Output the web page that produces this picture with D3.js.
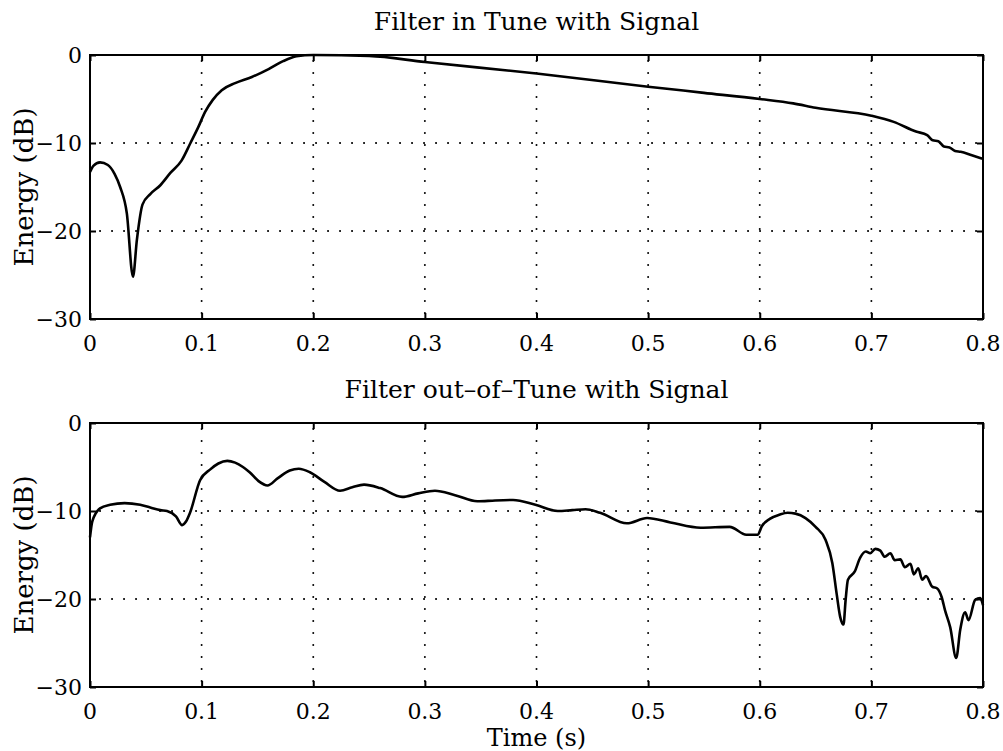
<!DOCTYPE html>
<html>
<head>
<meta charset="utf-8">
<script src="https://cdn.jsdelivr.net/npm/d3@7"></script>
<style>
    body { margin: 0; background: #fff; }
    svg { display: block; }
    text { font-family: "DejaVu Serif", "Liberation Serif", serif; fill: #000; }
</style>
</head>
<body>
<div id="chart"></div>
<script>
// tick values shared by both panels
const timeTicks = [0, 0.1, 0.2, 0.3, 0.4, 0.5, 0.6, 0.7, 0.8];
const energyTicks = [0, -10, -20, -30];

const titles = ["Filter in Tune with Signal", "Filter out\u2013of\u2013Tune with Signal"];

// top panel: filter in tune (time s, energy dB)
const inTuneTime = [0, 0.003, 0.009, 0.016, 0.022, 0.027, 0.033, 0.0385, 0.042, 0.047, 0.054, 0.063,
    0.072, 0.082, 0.09, 0.097, 0.103, 0.11, 0.118, 0.13, 0.145, 0.16, 0.173, 0.185, 0.2, 0.25,
    0.3, 0.4, 0.5, 0.55, 0.6, 0.63, 0.65, 0.7, 0.72, 0.74, 0.75, 0.755, 0.76, 0.765, 0.77, 0.775, 0.78, 0.79, 0.8];
const inTuneEnergy = [-13.3, -12.6, -12.2, -12.5, -13.5, -15.0, -18.0, -25.2, -21.0, -17.0, -15.8, -14.8,
    -13.4, -12.0, -10.0, -8.2, -6.5, -5.1, -4.0, -3.2, -2.5, -1.6, -0.7, -0.15, 0, -0.1,
    -0.8, -2.1, -3.6, -4.3, -5.0, -5.5, -6.0, -6.9, -7.6, -8.7, -9.1, -9.7, -9.8, -10.4, -10.5, -10.9, -11.0, -11.4, -11.8];

// bottom panel: filter out of tune
const outTuneTime = [0, 0.002, 0.009, 0.018, 0.031, 0.045, 0.054, 0.063, 0.069, 0.077, 0.0825, 0.086,
    0.0896, 0.0986, 0.1075, 0.115, 0.123, 0.13, 0.137, 0.143, 0.151, 0.159, 0.168, 0.179, 0.187,
    0.197, 0.21, 0.224, 0.235, 0.2455, 0.26, 0.2796, 0.294, 0.309, 0.327, 0.347, 0.363, 0.379,
    0.399, 0.419, 0.432, 0.444, 0.457, 0.481, 0.499, 0.52, 0.547, 0.573, 0.588, 0.598, 0.602,
    0.609, 0.618, 0.625, 0.632, 0.641, 0.65, 0.659, 0.665, 0.669, 0.672, 0.675, 0.677, 0.679,
    0.685, 0.69, 0.695, 0.699, 0.7035, 0.708, 0.712, 0.717, 0.721, 0.726, 0.73, 0.735, 0.738,
    0.742, 0.7455, 0.749, 0.7545, 0.759, 0.763, 0.766, 0.7706, 0.776, 0.7796, 0.784, 0.787,
    0.793, 0.7975, 0.8];
const outTuneEnergy = [-13.0, -11.2, -9.7, -9.3, -9.1, -9.3, -9.6, -9.9, -10.0, -10.6, -11.6, -11.2,
    -10.2, -6.5, -5.3, -4.6, -4.3, -4.5, -5.0, -5.6, -6.6, -7.1, -6.3, -5.4, -5.2,
    -5.6, -6.7, -7.7, -7.3, -7.0, -7.4, -8.4, -8.0, -7.7, -8.2, -8.9, -8.8, -8.75,
    -9.3, -10.0, -9.9, -9.8, -10.2, -11.4, -10.8, -11.3, -11.9, -11.8, -12.7, -12.7, -11.7,
    -10.9, -10.4, -10.2, -10.3, -10.8, -11.8, -13.3, -15.9, -19.5, -22.0, -22.9, -20.0, -17.8,
    -16.9, -15.3, -14.6, -14.8, -14.3, -14.5, -15.2, -14.8, -15.6, -15.5, -16.4, -16.0, -17.2,
    -16.5, -17.8, -17.4, -18.6, -18.8, -19.8, -21.3, -23.2, -26.7, -23.5, -21.5, -22.4,
    -20.1, -19.9, -20.7];

const width = 1003, height = 751;
const left = 90, right = 983;
const panelTops = [55, 423];
const panelHeight = 264;

const svg = d3.select("#chart").append("svg")
    .attr("width", width)
    .attr("height", height);

const x = d3.scaleLinear().domain([0, 0.8]).range([left, right]);

function drawPanel(i, times, energies) {
    const top = panelTops[i];
    const y = d3.scaleLinear().domain([-30, 0]).range([top + panelHeight, top]);
    const g = svg.append("g");

    // dotted grid
    g.selectAll(".vgrid").data(timeTicks.slice(1, -1)).enter()
        .append("line")
        .attr("x1", d => x(d)).attr("x2", d => x(d))
        .attr("y1", top + 6).attr("y2", top + panelHeight - 6)
        .attr("stroke", "#000").attr("stroke-width", 2)
        .attr("stroke-linecap", "round")
        .attr("stroke-dasharray", "0.1,11.9");
    g.selectAll(".hgrid").data(energyTicks.slice(1, -1)).enter()
        .append("line")
        .attr("y1", d => y(d)).attr("y2", d => y(d))
        .attr("x1", left + 10).attr("x2", right - 6)
        .attr("stroke", "#000").attr("stroke-width", 2)
        .attr("stroke-linecap", "round")
        .attr("stroke-dasharray", "0.1,11.9");

    // tick marks on all four sides, pointing in
    const xb = d3.axisBottom(x).tickValues(timeTicks).tickSizeInner(-6).tickSizeOuter(0).tickFormat("");
    const xt = d3.axisTop(x).tickValues(timeTicks).tickSizeInner(-6).tickSizeOuter(0).tickFormat("");
    const yl = d3.axisLeft(y).tickValues(energyTicks).tickSizeInner(-6).tickSizeOuter(0).tickFormat("");
    const yr = d3.axisRight(y).tickValues(energyTicks).tickSizeInner(-6).tickSizeOuter(0).tickFormat("");
    [[xb, `translate(0,${top + panelHeight})`], [xt, `translate(0,${top})`],
     [yl, `translate(${left},0)`], [yr, `translate(${right},0)`]].forEach(([ax, tr]) => {
        const a = g.append("g").attr("transform", tr).call(ax);
        a.select(".domain").remove();
        a.selectAll("line").attr("stroke-width", 2);
    });

    // frame
    g.append("rect")
        .attr("x", left).attr("y", top)
        .attr("width", right - left).attr("height", panelHeight)
        .attr("fill", "none").attr("stroke", "#000").attr("stroke-width", 2);

    // tick labels
    g.selectAll(".xl").data(timeTicks).enter()
        .append("text")
        .attr("x", d => x(d)).attr("y", top + panelHeight + 32)
        .attr("text-anchor", "middle")
        .attr("font-size", 22)
        .text(d => d === 0 ? "0" : d3.format(".1f")(d));
    g.selectAll(".yl").data(energyTicks).enter()
        .append("text")
        .attr("x", left - 8).attr("y", d => y(d) + 8)
        .attr("text-anchor", "end")
        .attr("font-size", 22)
        .text(d => d === 0 ? "0" : "\u2212" + Math.abs(d));

    g.append("text")
        .attr("transform", `translate(33,${top + panelHeight / 2}) rotate(-90)`)
        .attr("text-anchor", "middle")
        .attr("font-size", 26)
        .text("Energy (dB)");

    g.append("text")
        .attr("x", (left + right) / 2).attr("y", top - 25)
        .attr("text-anchor", "middle")
        .attr("font-size", 25)
        .text(titles[i]);

    const line = d3.line()
        .x(d => x(d[0]))
        .y(d => y(d[1]))
        .curve(d3.curveMonotoneX);

    g.append("path")
        .datum(times.map((t, k) => [t, energies[k]]))
        .attr("d", line)
        .attr("fill", "none")
        .attr("stroke", "#000")
        .attr("stroke-width", 2.6)
        .attr("stroke-linejoin", "round");
}

drawPanel(0, inTuneTime, inTuneEnergy);
drawPanel(1, outTuneTime, outTuneEnergy);

svg.append("text")
    .attr("x", (left + right) / 2).attr("y", 746)
    .attr("text-anchor", "middle")
    .attr("font-size", 24)
    .text("Time (s)");
</script>
</body>
</html>
